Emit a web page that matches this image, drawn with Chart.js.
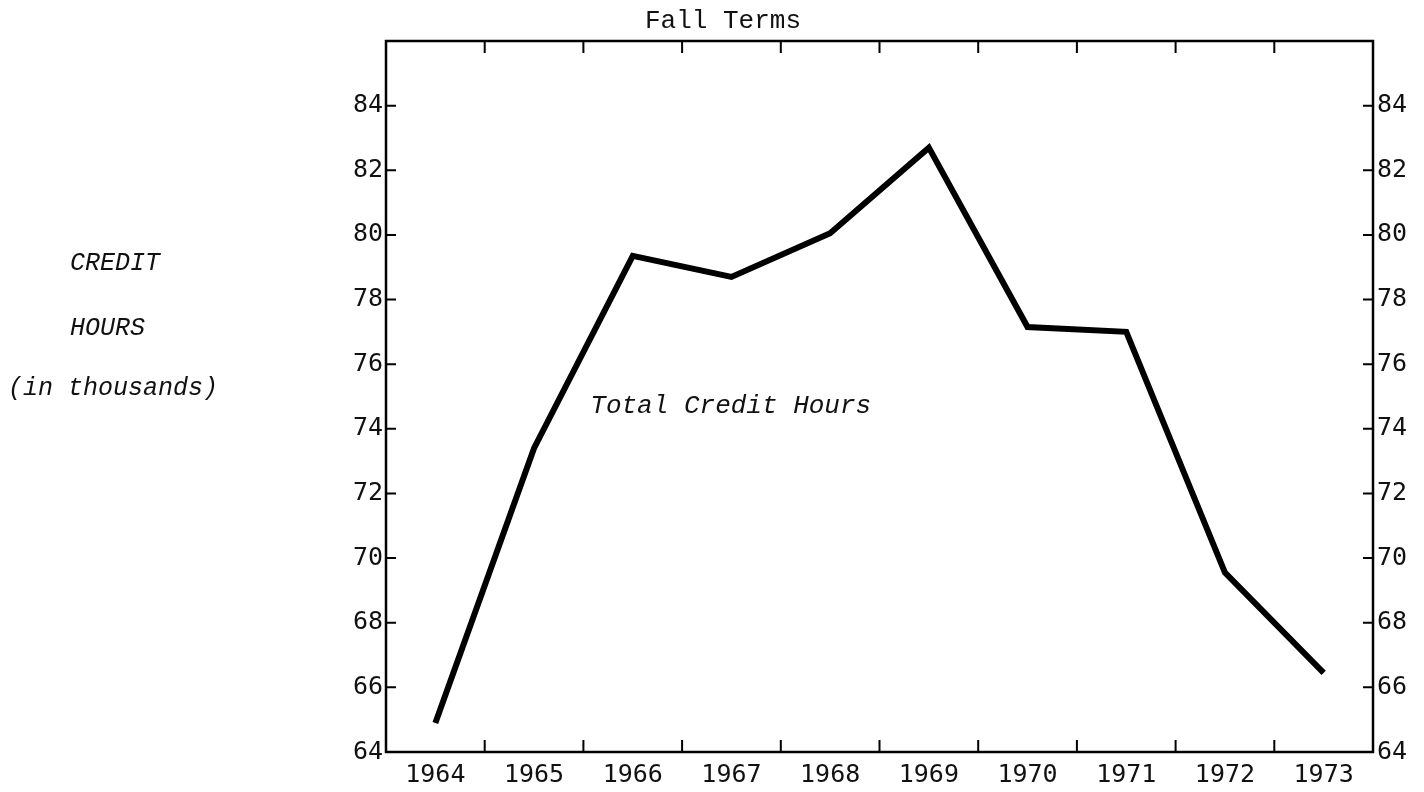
<!DOCTYPE html>
<html>
<head>
<meta charset="utf-8">
<script src="https://cdn.jsdelivr.net/npm/chart.js@4/dist/chart.umd.min.js"></script>
<style>
    body { margin: 0; background: #fff; }
    #wrap { width: 1424px; height: 792px; position: relative; }
</style>
</head>
<body>
<div id="wrap"><canvas id="creditChart"></canvas></div>
<script>
// fall term years and total credit hours (thousands)
var years = ["1964", "1965", "1966", "1967", "1968", "1969", "1970", "1971", "1972", "1973"];
var creditHours = [64.9, 73.4, 79.35, 78.7, 80.05, 82.7, 77.15, 77.0, 69.55, 66.45];
var yMin = 64;
var yMax = 86;
var yStep = 2;
var lastLabel = 84;

var tickFont = { family: "'DejaVu Sans Mono', monospace", size: 25 };
var typeFont = "'Liberation Mono', 'Courier New', monospace";

// frame, inward tick marks and free text
var framePlugin = {
    id: "frame",
    afterDraw: function (chart) {
        var ctx = chart.ctx;
        var a = chart.chartArea;
        var x = chart.scales.x;
        var y = chart.scales.y;
        ctx.save();
        ctx.strokeStyle = "#000";
        ctx.lineWidth = 2.5;
        ctx.strokeRect(a.left, a.top, a.right - a.left, a.bottom - a.top);

        ctx.lineWidth = 2;
        ctx.beginPath();
        y.ticks.forEach(function (t) {
            if (t.value <= yMin || t.value >= yMax) return;
            var py = y.getPixelForValue(t.value);
            ctx.moveTo(a.left, py);
            ctx.lineTo(a.left + 10, py);
            ctx.moveTo(a.right, py);
            ctx.lineTo(a.right - 10, py);
        });
        for (var i = 0; i < years.length - 1; i++) {
            var px = (x.getPixelForValue(i) + x.getPixelForValue(i + 1)) / 2;
            ctx.moveTo(px, a.bottom);
            ctx.lineTo(px, a.bottom - 12);
            ctx.moveTo(px, a.top);
            ctx.lineTo(px, a.top + 12);
        }
        ctx.stroke();

        ctx.fillStyle = "#111";
        ctx.font = "italic 26px " + typeFont;
        ctx.textBaseline = "middle";
        ctx.textAlign = "left";
        ctx.fillText("Total Credit Hours", x.getPixelForValue(1.57), y.getPixelForValue(74.7));

        ctx.font = "italic 25px " + typeFont;
        ctx.fillText("CREDIT", 70, 263);
        ctx.fillText("HOURS", 70, 328);
        ctx.fillText("(in thousands)", 8, 388);
        ctx.restore();
    }
};

function hideTop(v) {
    return v > lastLabel ? "" : v;
}

new Chart(document.getElementById("creditChart"), {
    type: "line",
    data: {
        labels: years,
        datasets: [{
            label: "Total Credit Hours",
            data: creditHours,
            borderColor: "#000",
            borderWidth: 6,
            pointRadius: 0,
            tension: 0,
            fill: false
        }]
    },
    options: {
        responsive: true,
        maintainAspectRatio: false,
        animation: false,
        layout: {
            padding: { left: 22, right: 0, top: 0, bottom: 0 }
        },
        plugins: {
            legend: { display: false },
            tooltip: { enabled: false },
            title: {
                display: true,
                text: "Fall Terms",
                color: "#111",
                font: { family: typeFont, size: 26, weight: "normal" },
                padding: { top: 6, bottom: 3.8 }
            }
        },
        scales: {
            x: {
                offset: true,
                grid: { display: false, drawTicks: false },
                border: { display: false },
                ticks: { color: "#111", font: tickFont, padding: 8, maxRotation: 0, autoSkip: false },
                afterFit: function (s) { s.height = 40; }
            },
            y: {
                position: "left",
                min: yMin,
                max: yMax,
                grid: { display: false, drawTicks: false },
                border: { display: false },
                ticks: { stepSize: yStep, color: "#111", font: tickFont, padding: 3, callback: hideTop },
                afterFit: function (s) { s.width = 364; }
            },
            y2: {
                position: "right",
                min: yMin,
                max: yMax,
                grid: { display: false, drawTicks: false },
                border: { display: false },
                ticks: { stepSize: yStep, color: "#111", font: tickFont, padding: 4, callback: hideTop },
                afterFit: function (s) { s.width = 51; }
            }
        }
    },
    plugins: [framePlugin]
});
</script>
</body>
</html>
